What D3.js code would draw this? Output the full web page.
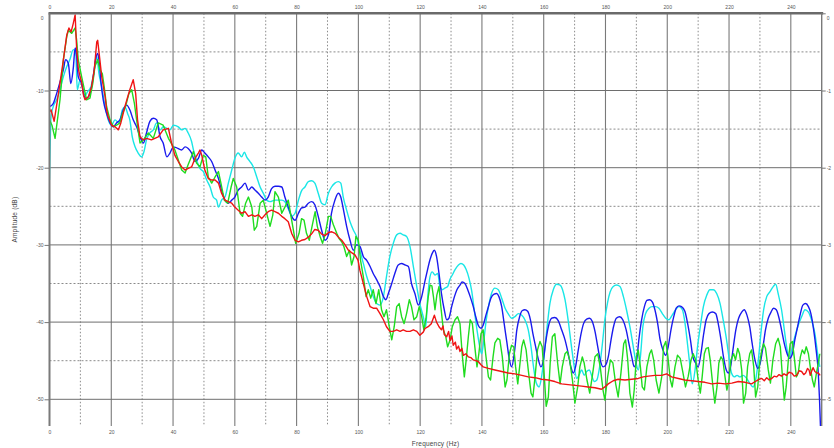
<!DOCTYPE html>
<html>
<head>
<meta charset="utf-8">
<script src="https://cdn.jsdelivr.net/npm/d3@7/dist/d3.min.js"></script>
<style>
  html, body { margin: 0; padding: 0; background: #fff; }
  svg { display: block; }
  .tick text { font-family: "Liberation Sans", Arial, sans-serif; font-size: 5px; fill: #555; }
  .title { font-family: "Liberation Sans", Arial, sans-serif; font-size: 6.5px; fill: #444; letter-spacing: 0.2px; }
</style>
</head>
<body>
<svg id="chart" width="834" height="448"></svg>
<script>
// Frequency axis ticks (Hz) and amplitude ticks (dB)
const freqTicks = [0, 20, 40, 60, 80, 100, 120, 140, 160, 180, 200, 220, 240];
const dbTicks = [0, -10, -20, -30, -40, -50];
const rightTicks = [0, -1, -2, -3, -4, -5];

// Spectrum traces: frequency (Hz) and amplitude (dB)
const cyanHz = [0, 0.5, 1.2, 2.3, 3.4, 4.5, 5.6, 6.6, 7.7, 8.5, 9.0, 9.9, 10.6, 11.5, 12.4, 13.4, 14.5, 15.3, 16.0, 16.9, 18.0, 19.0, 20.1, 21.2, 22.5, 23.6, 24.4, 25.3, 26.0, 26.8, 27.7, 28.7, 29.8, 30.6, 31.4, 32.5, 33.6, 34.7, 35.8, 36.8, 38.0, 39.0, 40.1, 41.7, 42.8, 43.9, 44.9, 46.0, 46.6, 47.6, 48.7, 49.8, 50.9, 52.0, 53.0, 54.1, 54.7, 55.7, 56.8, 57.9, 59.0, 60.0, 61.1, 62.2, 63.1, 63.8, 64.9, 66.0, 67.1, 68.2, 69.2, 70.3, 71.4, 73.0, 74.1, 75.2, 76.2, 77.3, 78.4, 79.5, 80.6, 81.6, 82.7, 83.8, 84.9, 85.9, 87.0, 88.1, 89.2, 90.3, 91.3, 92.4, 93.5, 94.3, 95.1, 96.2, 97.3, 98.4, 99.4, 100.5, 101.6, 102.7, 103.8, 104.8, 105.9, 107.0, 108.1, 109.1, 110.2, 111.3, 112.4, 113.5, 114.5, 115.6, 116.7, 117.8, 118.9, 119.9, 121.0, 121.8, 122.4, 123.2, 123.9, 124.8, 125.7, 126.4, 127.2, 128.0, 128.9, 129.6, 130.4, 131.3, 132.4, 133.2, 134.1, 134.9, 135.8, 136.7, 137.5, 138.4, 139.3, 139.9, 140.5, 141.4, 142.3, 143.1, 144.2, 145.3, 146.4, 147.5, 148.5, 149.6, 150.7, 151.8, 152.9, 153.9, 155.0, 155.9, 156.7, 157.6, 158.5, 159.3, 160.2, 161.1, 162.0, 163.1, 164.2, 165.3, 166.1, 166.9, 167.9, 169.0, 169.9, 170.7, 171.4, 172.3, 173.1, 173.9, 174.8, 175.5, 176.4, 177.2, 178.1, 179.0, 179.8, 180.7, 181.5, 182.5, 183.6, 184.7, 185.8, 186.8, 187.9, 189.0, 189.9, 190.6, 191.3, 192.1, 193.0, 194.1, 195.1, 196.2, 197.3, 198.4, 199.5, 200.5, 201.6, 202.7, 203.8, 204.9, 205.7, 206.6, 207.3, 208.1, 209.0, 209.8, 210.7, 211.7, 212.8, 213.8, 214.9, 216.0, 217.1, 218.1, 219.2, 220.1, 220.8, 221.7, 222.6, 223.5, 224.6, 225.7, 226.8, 227.8, 228.6, 229.5, 230.3, 231.2, 232.2, 233.2, 234.3, 235.1, 235.9, 237.0, 237.9, 238.8, 239.4, 240.3, 241.3, 242.4, 243.5, 244.6, 245.7, 246.7, 247.8, 248.7, 249.4];
const cyanDb = [-21.6, -13.4, -12.1, -11.2, -9.9, -8.2, -6.9, -6.0, -4.7, -5.2, -9.9, -8.6, -9.5, -10.6, -10.1, -9.5, -7.3, -5.6, -7.8, -9.5, -12.1, -13.8, -14.5, -13.8, -14.2, -12.5, -12.1, -13.0, -13.8, -16.0, -17.3, -18.1, -18.6, -17.9, -16.4, -15.5, -15.1, -14.2, -15.1, -14.7, -14.9, -15.1, -14.5, -14.7, -15.1, -14.9, -15.5, -16.6, -17.7, -19.0, -20.1, -20.5, -21.6, -22.5, -23.8, -24.2, -25.1, -24.2, -23.8, -22.0, -20.3, -18.8, -18.1, -18.6, -18.0, -18.6, -19.2, -19.9, -21.2, -22.5, -23.3, -24.2, -24.4, -24.2, -24.2, -24.2, -24.4, -25.3, -26.3, -25.9, -24.2, -23.0, -22.5, -21.8, -21.7, -22.0, -23.3, -24.6, -24.8, -23.3, -22.5, -22.0, -21.8, -22.0, -23.8, -25.5, -27.0, -28.1, -28.9, -30.7, -32.4, -34.1, -35.4, -36.7, -37.6, -37.8, -36.7, -34.1, -31.5, -29.8, -28.7, -28.5, -28.7, -28.9, -30.2, -32.8, -35.4, -37.6, -39.3, -40.6, -37.0, -34.1, -33.5, -33.9, -33.7, -35.4, -35.8, -35.6, -35.4, -34.5, -33.9, -33.2, -32.6, -32.4, -32.6, -33.2, -34.3, -36.0, -38.4, -41.0, -43.2, -44.1, -42.7, -39.7, -37.6, -36.3, -35.6, -35.8, -36.9, -38.2, -38.9, -39.5, -39.3, -38.9, -39.1, -39.7, -41.0, -43.2, -45.8, -47.9, -48.4, -47.1, -44.1, -40.6, -37.6, -35.8, -35.1, -35.2, -35.8, -37.1, -39.7, -43.2, -45.8, -47.3, -46.9, -46.2, -46.9, -46.4, -46.2, -46.9, -47.7, -47.5, -45.8, -42.8, -39.7, -37.4, -36.1, -35.4, -35.2, -35.4, -36.7, -38.4, -40.6, -43.2, -45.3, -46.2, -44.5, -40.6, -38.9, -38.2, -38.0, -38.0, -38.2, -38.9, -39.5, -39.7, -39.1, -38.4, -38.0, -38.4, -40.0, -43.0, -45.5, -48.0, -46.2, -43.2, -40.6, -38.0, -36.5, -35.8, -35.8, -36.3, -37.6, -39.7, -42.3, -44.9, -46.6, -47.1, -46.9, -47.1, -46.9, -47.3, -48.0, -48.4, -47.5, -44.9, -41.5, -38.4, -36.7, -36.1, -35.4, -35.1, -36.3, -38.4, -41.0, -43.6, -44.5, -43.6, -41.9, -40.4, -39.3, -38.4, -38.7, -39.7, -41.5, -44.1, -45.8];

const blueHz = [0, 1.2, 2.3, 3.4, 4.5, 5.2, 6.1, 6.9, 7.7, 8.3, 8.8, 9.3, 10.4, 11.3, 12.0, 13.1, 14.2, 14.9, 15.6, 16.0, 16.7, 17.4, 18.5, 19.6, 20.7, 21.7, 22.8, 23.9, 25.0, 26.0, 27.1, 28.2, 29.3, 30.4, 31.4, 32.5, 33.6, 34.7, 35.8, 36.8, 38.0, 39.0, 40.1, 41.0, 42.8, 43.9, 44.9, 46.0, 47.1, 48.2, 49.3, 50.3, 51.4, 52.5, 53.6, 54.7, 55.7, 56.8, 57.9, 59.0, 60.0, 61.1, 62.2, 63.3, 64.4, 65.5, 66.5, 67.6, 68.7, 69.8, 70.8, 71.9, 73.0, 74.1, 75.2, 76.2, 77.3, 78.4, 79.5, 80.6, 81.6, 82.7, 83.8, 84.9, 85.9, 87.0, 88.1, 89.2, 90.3, 91.3, 92.4, 93.5, 94.3, 95.1, 96.2, 97.3, 98.4, 99.4, 100.5, 101.6, 102.7, 103.8, 104.8, 105.9, 107.0, 108.1, 108.9, 109.7, 110.8, 111.8, 112.9, 114.0, 115.1, 116.2, 117.2, 118.3, 119.4, 120.5, 121.6, 122.4, 123.2, 123.9, 124.6, 125.3, 126.1, 126.9, 127.8, 128.6, 129.3, 130.2, 131.1, 131.9, 132.9, 133.6, 134.5, 135.4, 136.2, 137.2, 138.0, 138.8, 139.7, 140.4, 141.3, 142.1, 142.9, 143.8, 144.8, 145.5, 146.4, 147.2, 148.1, 148.9, 149.6, 150.5, 151.3, 152.2, 153.1, 153.9, 154.8, 155.7, 156.5, 157.4, 158.3, 159.1, 159.9, 160.6, 161.5, 162.6, 163.6, 164.7, 165.8, 166.9, 167.9, 168.8, 169.6, 170.3, 171.2, 172.1, 172.9, 173.9, 174.9, 175.7, 176.6, 177.5, 178.3, 179.2, 180.0, 180.9, 181.8, 182.6, 183.5, 184.6, 185.6, 186.7, 187.6, 188.5, 189.3, 190.1, 190.8, 191.7, 192.6, 193.4, 194.3, 195.2, 196.0, 196.9, 197.7, 198.6, 199.5, 200.3, 201.2, 202.1, 202.9, 203.8, 204.6, 205.7, 206.6, 207.5, 208.3, 209.2, 210.0, 210.9, 211.8, 212.6, 213.5, 214.6, 215.7, 216.5, 217.4, 218.2, 219.1, 219.8, 220.5, 221.4, 222.2, 223.1, 224.1, 224.9, 225.8, 226.7, 227.5, 228.4, 229.3, 230.1, 231.0, 231.8, 232.7, 233.6, 234.4, 235.3, 236.2, 237.0, 237.9, 238.8, 239.6, 240.5, 241.3, 242.2, 243.1, 243.9, 244.8, 245.7, 246.5, 247.4, 248.2, 248.9, 249.3, 249.6];
const blueDb = [-12.1, -11.7, -10.4, -8.9, -7.3, -6.0, -6.5, -9.1, -7.1, -4.5, -5.6, -8.2, -9.1, -10.8, -11.0, -10.4, -8.2, -6.0, -5.2, -6.0, -9.1, -11.2, -13.0, -14.2, -14.7, -14.2, -13.8, -12.5, -11.9, -12.5, -13.8, -14.7, -16.0, -16.8, -15.5, -14.0, -13.6, -13.8, -16.0, -16.8, -18.6, -18.1, -17.3, -17.4, -17.7, -17.3, -17.5, -18.1, -19.2, -18.8, -17.7, -18.1, -18.6, -19.2, -20.3, -21.4, -22.9, -24.2, -24.6, -24.2, -23.8, -22.9, -22.5, -22.0, -22.9, -22.5, -22.9, -23.3, -23.8, -24.2, -23.8, -22.7, -22.4, -22.4, -22.5, -23.8, -25.1, -26.3, -26.8, -25.9, -25.2, -25.1, -24.6, -24.4, -24.8, -26.3, -28.1, -29.4, -28.7, -25.9, -24.2, -23.3, -23.8, -25.3, -27.6, -29.4, -30.7, -30.0, -30.2, -31.5, -32.0, -32.8, -33.7, -34.5, -35.4, -36.7, -37.1, -36.3, -35.0, -33.7, -32.6, -32.4, -32.6, -32.8, -35.0, -36.3, -37.8, -36.7, -34.6, -33.2, -31.9, -31.1, -30.7, -31.5, -33.7, -36.3, -38.4, -39.7, -39.5, -38.0, -36.7, -35.8, -35.2, -34.8, -35.0, -35.8, -36.7, -38.0, -39.3, -40.4, -40.8, -40.4, -39.1, -38.0, -36.9, -36.4, -36.3, -36.7, -38.0, -40.2, -42.7, -44.9, -45.8, -44.0, -41.0, -39.3, -38.5, -38.4, -38.6, -39.7, -41.5, -43.2, -44.9, -45.8, -44.9, -42.7, -40.6, -39.5, -39.4, -39.8, -41.0, -42.3, -44.0, -45.8, -46.6, -45.8, -43.6, -41.5, -40.2, -39.6, -39.5, -39.9, -41.2, -43.2, -44.9, -45.8, -45.6, -44.5, -42.3, -40.6, -39.5, -39.3, -39.7, -41.0, -42.8, -44.5, -45.8, -44.9, -42.3, -39.7, -38.0, -37.2, -37.1, -37.4, -38.4, -40.2, -42.3, -43.6, -44.3, -43.2, -41.0, -39.3, -38.2, -37.9, -38.0, -38.6, -40.2, -42.3, -44.5, -45.3, -45.8, -44.1, -41.5, -39.7, -38.9, -38.7, -38.9, -40.2, -42.3, -44.5, -46.2, -46.6, -45.8, -43.2, -41.0, -39.5, -38.7, -38.4, -39.1, -40.6, -42.8, -44.9, -46.0, -45.3, -43.2, -41.0, -39.5, -38.7, -38.2, -38.4, -39.5, -41.0, -42.8, -44.1, -44.7, -44.1, -42.3, -40.6, -38.9, -37.8, -37.6, -38.0, -38.9, -41.0, -43.6, -46.6, -50.1, -53.5];

const greenHz = [0, 0.8, 1.8, 3.4, 4.5, 5.6, 6.1, 7.2, 8.3, 8.8, 9.3, 10.4, 11.3, 12.0, 13.1, 14.0, 14.7, 15.6, 16.3, 17.1, 17.7, 18.5, 19.6, 20.7, 21.7, 22.8, 23.6, 24.6, 25.7, 26.6, 27.5, 28.2, 29.3, 30.4, 32.0, 33.6, 35.2, 36.8, 38.5, 40.1, 40.6, 41.7, 42.8, 43.9, 44.9, 45.5, 46.6, 47.6, 48.7, 49.8, 50.6, 51.4, 52.5, 53.6, 54.7, 55.5, 56.6, 57.7, 58.8, 59.5, 60.6, 61.7, 62.5, 63.5, 64.4, 65.5, 66.3, 67.1, 68.2, 69.2, 70.3, 71.4, 72.3, 73.0, 74.1, 75.2, 76.2, 77.3, 78.4, 79.7, 80.8, 81.6, 82.4, 83.2, 84.1, 85.0, 86.0, 86.7, 87.6, 88.4, 89.3, 90.3, 91.0, 91.9, 93.0, 93.8, 94.6, 95.3, 96.2, 97.1, 97.8, 98.6, 99.2, 100.0, 100.7, 101.6, 102.5, 103.2, 104.0, 104.8, 105.7, 106.6, 107.5, 108.3, 109.1, 110.0, 110.8, 111.6, 112.4, 113.2, 114.0, 114.8, 115.6, 116.5, 117.2, 118.0, 118.9, 119.7, 120.5, 121.2, 121.9, 122.6, 123.2, 123.8, 124.3, 124.8, 125.4, 126.1, 126.7, 127.5, 128.3, 128.9, 129.7, 130.4, 131.3, 132.1, 132.9, 133.6, 134.3, 134.9, 135.6, 136.2, 136.9, 137.7, 138.4, 139.0, 139.7, 140.4, 141.2, 142.1, 142.8, 143.6, 144.2, 145.1, 145.8, 146.6, 147.5, 148.1, 148.9, 149.6, 150.3, 150.9, 151.6, 152.2, 152.9, 153.5, 154.3, 155.0, 155.9, 156.5, 157.2, 158.0, 158.8, 159.5, 160.2, 160.8, 161.5, 162.1, 162.8, 163.6, 164.5, 165.3, 166.0, 166.9, 167.6, 168.4, 169.3, 170.1, 171.0, 171.7, 172.5, 173.1, 174.0, 174.9, 175.7, 176.6, 177.5, 178.3, 179.2, 179.8, 180.7, 181.6, 182.4, 183.3, 184.1, 185.0, 185.9, 186.5, 187.2, 187.9, 188.7, 189.3, 190.0, 190.6, 191.3, 191.9, 192.6, 193.4, 194.3, 194.9, 195.6, 196.4, 197.3, 198.2, 198.8, 199.5, 200.1, 201.0, 201.6, 202.5, 203.3, 204.2, 205.1, 205.9, 206.8, 207.7, 208.4, 209.2, 210.0, 210.7, 211.3, 212.0, 212.6, 213.3, 213.9, 214.8, 215.4, 216.1, 216.7, 217.4, 218.0, 218.7, 219.3, 220.0, 220.6, 221.5, 222.1, 222.8, 223.4, 224.1, 224.7, 225.4, 226.0, 226.7, 227.3, 228.0, 228.6, 229.3, 229.9, 230.6, 231.2, 231.8, 232.7, 233.4, 234.2, 235.1, 235.9, 236.6, 237.2, 237.9, 238.5, 239.2, 239.8, 240.5, 241.1, 241.8, 242.4, 243.1, 243.7, 244.4, 245.0, 245.7, 246.3, 247.0, 247.6, 248.3, 248.9, 249.4];
const greenDb = [-13.8, -14.5, -16.2, -11.2, -6.0, -3.0, -2.2, -2.6, -1.9, -3.5, -6.0, -8.2, -9.9, -11.2, -11.0, -9.1, -6.9, -6.0, -7.3, -7.8, -9.5, -12.1, -13.8, -14.7, -14.5, -14.2, -13.0, -12.1, -10.4, -9.9, -11.7, -13.8, -16.8, -16.4, -15.5, -16.2, -14.2, -14.5, -16.2, -17.3, -17.7, -19.0, -20.3, -20.7, -19.6, -19.0, -17.9, -19.4, -19.9, -18.4, -18.6, -21.2, -22.0, -21.2, -20.5, -22.0, -24.2, -24.6, -22.5, -21.4, -22.5, -25.9, -26.3, -24.6, -23.8, -25.1, -28.1, -27.6, -24.6, -24.2, -25.9, -27.6, -26.1, -23.1, -23.8, -25.9, -25.1, -24.2, -26.8, -29.8, -28.5, -26.6, -26.8, -28.5, -29.4, -27.6, -25.7, -27.6, -28.9, -29.8, -28.5, -26.3, -26.3, -27.4, -28.5, -29.2, -29.6, -30.2, -31.5, -30.7, -32.6, -31.5, -28.9, -29.4, -32.0, -34.1, -36.7, -35.8, -36.9, -35.8, -37.6, -35.8, -38.4, -39.3, -38.4, -40.6, -42.3, -40.6, -38.0, -37.6, -39.3, -40.2, -38.9, -37.1, -38.0, -39.7, -39.3, -38.0, -39.3, -41.0, -39.5, -36.8, -35.2, -35.3, -36.7, -38.4, -36.5, -35.4, -38.0, -41.0, -41.9, -43.2, -42.3, -40.6, -39.7, -39.3, -40.2, -44.1, -47.1, -44.9, -41.9, -39.7, -40.2, -43.2, -45.8, -44.1, -41.5, -41.0, -44.1, -47.1, -47.5, -44.5, -42.7, -42.1, -42.3, -44.5, -48.4, -47.5, -44.1, -43.0, -43.2, -45.8, -48.0, -45.8, -43.2, -42.3, -43.6, -46.2, -49.2, -49.7, -47.1, -43.6, -42.5, -43.2, -47.1, -50.9, -49.7, -45.3, -41.9, -41.5, -45.3, -48.0, -45.8, -44.1, -43.8, -44.9, -47.5, -50.5, -48.4, -45.8, -44.5, -45.3, -47.5, -49.2, -47.1, -44.5, -44.1, -45.8, -48.8, -50.1, -47.1, -44.9, -45.3, -48.0, -49.7, -46.6, -42.8, -42.3, -44.9, -49.2, -51.0, -48.8, -44.5, -43.6, -45.8, -48.4, -48.8, -45.8, -44.1, -43.6, -44.9, -47.5, -49.2, -47.1, -43.2, -42.5, -44.1, -47.5, -48.4, -45.8, -44.3, -44.7, -46.6, -48.4, -47.0, -44.9, -44.1, -44.9, -47.5, -49.2, -47.1, -44.1, -43.4, -43.3, -44.9, -48.4, -50.5, -48.4, -45.3, -44.5, -44.9, -47.1, -48.8, -47.5, -44.9, -44.1, -44.9, -43.4, -44.1, -46.2, -50.5, -49.2, -45.8, -44.1, -43.6, -45.8, -49.7, -48.4, -45.3, -43.6, -42.8, -43.4, -46.2, -47.9, -44.9, -42.8, -42.1, -43.2, -46.6, -50.1, -48.4, -44.9, -42.8, -42.5, -44.5, -47.1, -46.6, -44.5, -43.6, -44.1, -43.2, -44.1, -45.8, -47.5, -48.4, -46.6, -45.3, -44.1];

const redHz = [0, 0.5, 1.5, 2.9, 4.5, 5.6, 6.3, 7.0, 7.7, 8.3, 8.8, 9.3, 9.9, 10.4, 11.0, 11.5, 12.6, 13.6, 14.5, 15.3, 15.6, 16.3, 16.9, 18.0, 18.5, 19.0, 20.1, 21.2, 22.3, 23.1, 24.4, 26.0, 27.1, 27.9, 28.5, 29.3, 30.4, 31.4, 33.0, 35.2, 36.8, 38.5, 39.5, 40.6, 41.7, 42.8, 43.9, 44.9, 46.0, 47.1, 48.2, 48.7, 49.3, 50.3, 51.4, 52.5, 53.6, 54.7, 55.7, 56.8, 57.9, 59.0, 60.0, 61.1, 62.2, 63.3, 64.4, 65.5, 66.5, 67.6, 68.7, 69.8, 70.8, 71.9, 73.0, 74.1, 75.2, 76.2, 77.3, 78.4, 79.5, 80.6, 81.6, 82.7, 83.8, 84.8, 85.9, 87.0, 88.1, 89.2, 90.3, 91.4, 92.5, 93.5, 94.6, 95.7, 96.8, 97.8, 98.9, 99.9, 100.5, 101.6, 102.7, 103.8, 104.8, 105.9, 107.0, 108.1, 109.1, 110.2, 111.3, 112.4, 113.5, 114.5, 115.6, 116.7, 117.8, 118.9, 119.9, 121.0, 121.6, 122.6, 123.6, 124.6, 125.3, 126.1, 126.9, 127.4, 127.8, 128.6, 129.2, 129.7, 130.3, 130.7, 131.4, 131.8, 132.4, 132.9, 133.5, 134.0, 134.8, 135.6, 136.4, 137.2, 138.0, 138.8, 139.6, 140.4, 142.1, 144.2, 146.4, 148.5, 150.7, 152.9, 155.0, 157.2, 159.3, 161.5, 163.6, 165.8, 167.9, 170.1, 172.3, 174.4, 176.6, 178.7, 179.8, 180.9, 182.5, 184.1, 186.3, 188.5, 190.6, 192.2, 193.9, 196.0, 198.2, 199.8, 201.4, 203.6, 205.7, 207.9, 210.0, 212.2, 214.4, 216.5, 218.7, 220.9, 223.0, 225.2, 227.3, 228.9, 229.8, 230.6, 231.4, 232.2, 233.0, 233.8, 234.6, 235.4, 236.2, 237.0, 237.8, 238.6, 239.4, 240.3, 241.1, 241.9, 242.7, 243.5, 244.2, 244.8, 245.4, 245.9, 246.3, 246.7, 247.2, 247.8, 248.4, 248.9, 249.5];
const redDb = [-12.8, -12.5, -14.0, -10.4, -6.0, -2.8, -1.9, -2.4, -1.3, -0.2, -4.7, -7.1, -8.2, -8.9, -10.6, -11.2, -10.8, -9.5, -7.3, -3.7, -3.5, -6.0, -8.2, -10.8, -12.5, -13.4, -14.5, -14.7, -15.1, -14.2, -12.1, -9.9, -8.6, -10.4, -13.8, -16.0, -16.4, -16.2, -16.4, -16.0, -15.1, -14.9, -16.8, -18.4, -19.2, -19.9, -20.3, -20.1, -19.9, -18.8, -18.1, -17.7, -18.4, -20.3, -21.4, -21.6, -21.6, -22.0, -23.3, -24.2, -24.4, -24.6, -25.1, -25.5, -25.9, -25.7, -26.3, -26.1, -26.3, -26.1, -26.6, -26.1, -25.7, -25.5, -25.7, -25.9, -26.3, -26.6, -27.0, -28.5, -29.4, -29.6, -29.4, -29.3, -29.0, -28.6, -28.0, -28.1, -28.6, -28.8, -28.4, -28.3, -28.5, -29.0, -29.4, -30.0, -30.7, -31.0, -31.3, -32.0, -33.3, -35.0, -36.7, -38.0, -38.2, -38.2, -38.9, -39.7, -40.6, -41.2, -41.2, -41.0, -41.2, -41.0, -41.2, -41.2, -41.0, -41.2, -41.7, -41.3, -40.8, -40.6, -40.2, -39.1, -40.0, -40.6, -41.0, -40.5, -41.6, -41.9, -41.2, -42.4, -41.8, -43.0, -42.6, -43.5, -43.1, -43.8, -43.4, -44.3, -44.1, -44.5, -44.6, -44.9, -45.0, -45.1, -45.5, -45.8, -46.0, -46.2, -46.4, -46.6, -46.7, -46.9, -47.1, -47.2, -47.4, -47.5, -47.7, -48.0, -48.1, -48.2, -48.3, -48.4, -48.5, -48.7, -48.4, -48.0, -47.6, -47.4, -47.5, -47.4, -47.3, -47.1, -47.0, -46.9, -46.9, -46.7, -47.1, -47.3, -47.5, -47.6, -47.7, -47.8, -48.0, -47.9, -48.0, -47.9, -47.7, -47.8, -48.0, -47.6, -47.4, -47.3, -47.6, -47.2, -47.5, -47.3, -47.0, -47.1, -46.8, -47.0, -46.7, -46.9, -46.5, -46.6, -47.0, -46.9, -46.3, -46.4, -46.8, -46.6, -46.0, -46.2, -46.9, -46.4, -45.9, -46.4, -46.6, -46.6, -46.9];

const series = [
  { name: "cyan",  hz: cyanHz,  db: cyanDb,  color: "#19e6e6", curve: d3.curveMonotoneX },
  { name: "blue",  hz: blueHz,  db: blueDb,  color: "#1a1aee", curve: d3.curveMonotoneX },
  { name: "green", hz: greenHz, db: greenDb, color: "#1fdc1f", curve: d3.curveLinear },
  { name: "red",   hz: redHz,   db: redDb,   color: "#f01414", curve: d3.curveLinear }
];

const svg = d3.select("#chart");
const plotLeft = 49.5, plotRight = 821.7, plotTop = 13.3, plotBottom = 426;

const x = d3.scaleLinear().domain([0, 250]).range([plotLeft, plotRight]);
const y = d3.scaleLinear().domain([0, -50]).range([plotTop, 399.3]);
const yRight = d3.scaleLinear().domain([0, -5]).range([plotTop, 399.3]);

// Grid: solid every 20 Hz / 10 dB, dashed halfway between
const grid = svg.append("g");
d3.range(10, 250, 10).forEach(v => {
  grid.append("line")
    .attr("x1", x(v)).attr("x2", x(v))
    .attr("y1", plotTop).attr("y2", plotBottom)
    .attr("stroke", v % 20 === 0 ? "#7a7a7a" : "#8a8a8a")
    .attr("stroke-width", v % 20 === 0 ? 1.1 : 1)
    .attr("stroke-dasharray", v % 20 === 0 ? null : "1.5,2");
});
d3.range(-5, -51, -5).forEach(v => {
  grid.append("line")
    .attr("x1", plotLeft).attr("x2", plotRight)
    .attr("y1", y(v)).attr("y2", y(v))
    .attr("stroke", v % 10 === 0 ? "#6e6e6e" : "#8a8a8a")
    .attr("stroke-width", 1)
    .attr("stroke-dasharray", v % 10 === 0 ? null : "2,2");
});

// Traces, clipped to the plot frame
svg.append("clipPath").attr("id", "plotClip")
  .append("rect").attr("x", plotLeft).attr("y", plotTop)
  .attr("width", plotRight - plotLeft).attr("height", plotBottom - plotTop);

const traces = svg.append("g").attr("clip-path", "url(#plotClip)");
series.forEach(s => {
  const pts = s.hz.map((h, i) => [h, s.db[i]]);
  const line = d3.line().x(d => x(d[0])).y(d => y(d[1])).curve(s.curve);
  traces.append("path")
    .datum(pts)
    .attr("d", line)
    .attr("fill", "none")
    .attr("stroke", s.color)
    .attr("stroke-width", 1.4)
    .attr("stroke-linejoin", "round");
});

// Frame
svg.append("line").attr("x1", plotLeft - 1).attr("x2", plotRight + 1.5).attr("y1", plotTop).attr("y2", plotTop)
  .attr("stroke", "#6a6a6a").attr("stroke-width", 2.4);
svg.append("line").attr("x1", plotLeft).attr("x2", plotLeft).attr("y1", plotTop).attr("y2", plotBottom)
  .attr("stroke", "#7a7a7a").attr("stroke-width", 2);
svg.append("line").attr("x1", plotRight).attr("x2", plotRight).attr("y1", plotTop).attr("y2", plotBottom)
  .attr("stroke", "#7a7a7a").attr("stroke-width", 1.4);

// Axes
const fmt = d => String(d);
const topAxis = svg.append("g").attr("transform", `translate(0,${plotTop})`)
  .call(d3.axisTop(x).tickValues(freqTicks).tickSize(0).tickPadding(4.5).tickFormat(fmt));
const bottomAxis = svg.append("g").attr("transform", `translate(0,${plotBottom})`)
  .call(d3.axisBottom(x).tickValues(freqTicks).tickSize(0).tickPadding(4).tickFormat(fmt));
const leftAxis = svg.append("g").attr("transform", `translate(${plotLeft},0)`)
  .call(d3.axisLeft(y).tickValues(dbTicks).tickSize(5).tickPadding(1).tickFormat(fmt));
const rightAxis = svg.append("g").attr("transform", `translate(${plotRight},0)`)
  .call(d3.axisRight(yRight).tickValues(rightTicks).tickSize(4).tickPadding(1).tickFormat(fmt));

[topAxis, bottomAxis, leftAxis, rightAxis].forEach(a => {
  a.select(".domain").remove();
  a.attr("fill", null).attr("font-family", null).attr("font-size", null);
  a.selectAll(".tick line").attr("stroke", "#777");
  a.selectAll(".tick text").attr("fill", "#555");
});
// the zero labels on the dB axes sit just below the top frame
leftAxis.selectAll(".tick").filter(d => d === 0).select("text").attr("y", 4.5);
leftAxis.selectAll(".tick").filter(d => d === 0).select("line").remove();
rightAxis.selectAll(".tick").filter(d => d === 0).select("text").attr("y", 4.5);

// Axis titles
svg.append("text").attr("class", "title")
  .attr("x", (plotLeft + plotRight) / 2).attr("y", 446)
  .attr("text-anchor", "middle").text("Frequency (Hz)");
svg.append("text").attr("class", "title")
  .attr("transform", `translate(17,${(plotTop + plotBottom) / 2}) rotate(-90)`)
  .attr("text-anchor", "middle").text("Amplitude (dB)");
</script>
</body>
</html>
